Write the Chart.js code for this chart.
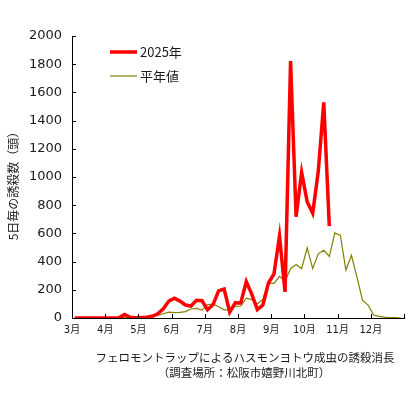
<!DOCTYPE html>
<html>
<head>
<meta charset="utf-8">
<script src="https://cdn.jsdelivr.net/npm/chart.js@4"></script>
<style>
  html, body { margin: 0; padding: 0; background: #fff; }
  canvas { display: block; }
</style>
</head>
<body>
<canvas id="chart" width="420" height="394"></canvas>
<script>
// month tick labels (each month = 6 pentads)
const monthLabels = ["3月", "4月", "5月", "6月", "7月", "8月", "9月", "10月", "11月", "12月"]

// 5-day counts, pentad 0 = 3/1-3/5
const values2025 = [
  0, 0, 0, 0, 0, 0, 0, 0, 2, 25,
  5, 2, 4, 6, 12, 30, 65, 120, 140, 120,
  92, 85, 125, 122, 58, 95, 192, 205, 42, 108,
  106, 258, 168, 60, 92, 248, 312, 581, 185, 1822,
  718, 1033, 825, 743, 1037, 1529, 652
]
const valuesAvg = [
  0, 0, 0, 0, 0, 0, 1, 1, 2, 2,
  3, 4, 6, 8, 12, 18, 30, 42, 38, 40,
  45, 64, 68, 56, 96, 98, 80, 58, 57, 82,
  85, 140, 130, 100, 133, 245, 245, 295, 262, 350,
  380, 350, 497, 350, 455, 480, 436, 604, 585, 340,
  445, 290, 127, 92, 21, 11, 6, 3, 2, 0
]

const seriesNames = ["2025年", "平年値"]
const yTitle = "5日毎の誘殺数（頭）"
const caption = ["フェロモントラップによるハスモンヨトウ成虫の誘殺消長", "（調査場所：松阪市嬉野川北町）"]

const toPoints = arr => arr.map((v, i) => ({ x: i + 0.5, y: v }))
const jp = "'Noto Sans CJK JP', sans-serif"
const textColor = "#1a1a1a"

const extras = {
  id: "extras",
  afterDraw(chart) {
    const { ctx, chartArea: a, scales: { x, y } } = chart
    ctx.save()
    // inner tick marks
    ctx.strokeStyle = "#000"
    ctx.lineWidth = 1
    ctx.beginPath()
    y.ticks.forEach(t => {
      const py = Math.round(y.getPixelForValue(t.value)) + 0.5
      ctx.moveTo(a.left, py)
      ctx.lineTo(a.left + 4, py)
    })
    x.ticks.forEach(t => {
      const px = Math.round(x.getPixelForValue(t.value)) + 0.5
      ctx.moveTo(px, a.bottom)
      ctx.lineTo(px, a.bottom - 4)
    })
    ctx.stroke()

    // legend
    const ds = chart.data.datasets
    const rows = [52, 76]
    ds.forEach((d, i) => {
      ctx.strokeStyle = d.borderColor
      ctx.lineWidth = d.borderWidth
      ctx.beginPath()
      ctx.moveTo(110, rows[i])
      ctx.lineTo(137, rows[i])
      ctx.stroke()
      ctx.fillStyle = textColor
      ctx.font = "13px " + jp
      ctx.textAlign = "left"
      ctx.textBaseline = "middle"
      ctx.fillText(d.label, 140, rows[i])
    })

    // y axis title
    ctx.save()
    ctx.translate(13, 183)
    ctx.rotate(-Math.PI / 2)
    ctx.font = "12px " + jp
    ctx.textAlign = "center"
    ctx.textBaseline = "middle"
    ctx.fillText(yTitle, 0, 0)
    ctx.restore()

    // caption under the chart
    ctx.font = "11.5px " + jp
    ctx.textAlign = "center"
    ctx.textBaseline = "middle"
    ctx.fillText(caption[0], 245, 358)
    ctx.fillText(caption[1], 244, 373)
    ctx.restore()
  }
}

new Chart(document.getElementById("chart"), {
  type: "line",
  data: {
    datasets: [
      {
        label: seriesNames[0],
        data: toPoints(values2025),
        borderColor: "#ff0000",
        borderWidth: 3.5,
        pointRadius: 0,
        tension: 0
      },
      {
        label: seriesNames[1],
        data: toPoints(valuesAvg),
        borderColor: "#808000",
        borderWidth: 1.2,
        pointRadius: 0,
        tension: 0
      }
    ]
  },
  options: {
    responsive: false,
    animation: false,
    devicePixelRatio: 1,
    layout: { padding: { top: 36, right: 16, left: 0, bottom: 0 } },
    plugins: {
      legend: { display: false },
      tooltip: { enabled: false }
    },
    scales: {
      x: {
        type: "linear",
        min: 0,
        max: 60,
        afterFit: s => { s.height = 76 },
        grid: { display: true, drawOnChartArea: false, drawTicks: false },
        border: { color: "#000", width: 1 },
        ticks: {
          stepSize: 6,
          autoSkip: false,
          maxRotation: 0,
          padding: 6,
          color: textColor,
          font: { family: "'DejaVu Sans', 'Noto Sans CJK JP'", size: 10 },
          callback: v => monthLabels[v / 6] ?? ""
        }
      },
      y: {
        min: 0,
        max: 2000,
        afterFit: s => { s.width = 72 },
        grid: { display: true, drawOnChartArea: false, drawTicks: false },
        border: { color: "#000", width: 1 },
        ticks: {
          stepSize: 200,
          padding: 10,
          color: textColor,
          font: { family: "'DejaVu Sans'", size: 13 },
          callback: v => String(v)
        }
      }
    }
  },
  plugins: [extras]
})
</script>
</body>
</html>
